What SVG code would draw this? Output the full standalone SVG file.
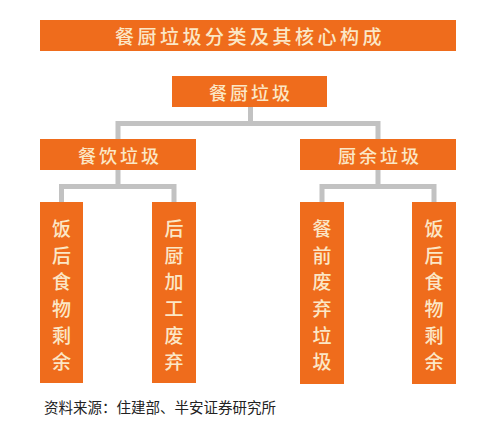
<svg xmlns="http://www.w3.org/2000/svg" width="484" height="428" viewBox="0 0 484 428">
<style>
.box{fill:#ef6c1c;}
.t{font-family:"Noto Sans CJK SC","Noto Sans",sans-serif;fill:#fbe7c6;text-anchor:middle;dominant-baseline:central;font-weight:500;}
.h{font-size:18px;letter-spacing:3px;}
.v{font-size:19px;}
.conn{stroke:#c2c2c2;stroke-width:5;fill:none;}
.src{font-family:"Noto Sans CJK SC","Noto Sans",sans-serif;font-size:14.5px;fill:#222;}
</style>
<rect width="484" height="428" fill="#fff"/>
<g id="connectors">
<path class="conn" d="M250.5 107V123.5M118 123.5H378M118 121V139M378 121V139"/>
<path class="conn" d="M118 170V186.5M61.5 186.5H174M61.5 184V202M174 184V202"/>
<path class="conn" d="M378 170V186.5M322 186.5H434M322 184V202M434 184V202"/>
</g>
<g id="title">
<rect class="box" x="40" y="20" width="416" height="31"/>
<text class="t" x="250" y="35.5" style="font-size:19px;letter-spacing:3.5px">餐厨垃圾分类及其核心构成</text>
</g>
<g id="root">
<rect class="box" x="172" y="76" width="155" height="31"/>
<text class="t h" x="251" y="91.5">餐厨垃圾</text>
</g>
<g id="n-canyin">
<rect class="box" x="40" y="139" width="156" height="31"/>
<text class="t h" x="120" y="154.5">餐饮垃圾</text>
</g>
<g id="n-chuyu">
<rect class="box" x="300" y="139" width="156" height="31"/>
<text class="t h" x="380" y="154.5">厨余垃圾</text>
</g>
<g id="n-l1">
<rect class="box" x="40" y="202" width="43" height="181"/>
<text class="t v" x="61.5"><tspan x="61.5" y="227">饭</tspan><tspan x="61.5" y="254">后</tspan><tspan x="61.5" y="280">食</tspan><tspan x="61.5" y="307">物</tspan><tspan x="61.5" y="334">剩</tspan><tspan x="61.5" y="360">余</tspan></text>
</g>
<g id="n-l2">
<rect class="box" x="152" y="202" width="44" height="181"/>
<text class="t v" x="174"><tspan x="174" y="227">后</tspan><tspan x="174" y="254">厨</tspan><tspan x="174" y="280">加</tspan><tspan x="174" y="307">工</tspan><tspan x="174" y="334">废</tspan><tspan x="174" y="360">弃</tspan></text>
</g>
<g id="n-r1">
<rect class="box" x="300" y="202" width="44" height="182"/>
<text class="t v" x="322"><tspan x="322" y="227">餐</tspan><tspan x="322" y="254">前</tspan><tspan x="322" y="280">废</tspan><tspan x="322" y="307">弃</tspan><tspan x="322" y="334">垃</tspan><tspan x="322" y="360">圾</tspan></text>
</g>
<g id="n-r2">
<rect class="box" x="412" y="202" width="44" height="182"/>
<text class="t v" x="434"><tspan x="434" y="227">饭</tspan><tspan x="434" y="254">后</tspan><tspan x="434" y="280">食</tspan><tspan x="434" y="307">物</tspan><tspan x="434" y="334">剩</tspan><tspan x="434" y="360">余</tspan></text>
</g>
<text class="src" x="44" y="413">资料来源：住建部、半安证券研究所</text>
</svg>
